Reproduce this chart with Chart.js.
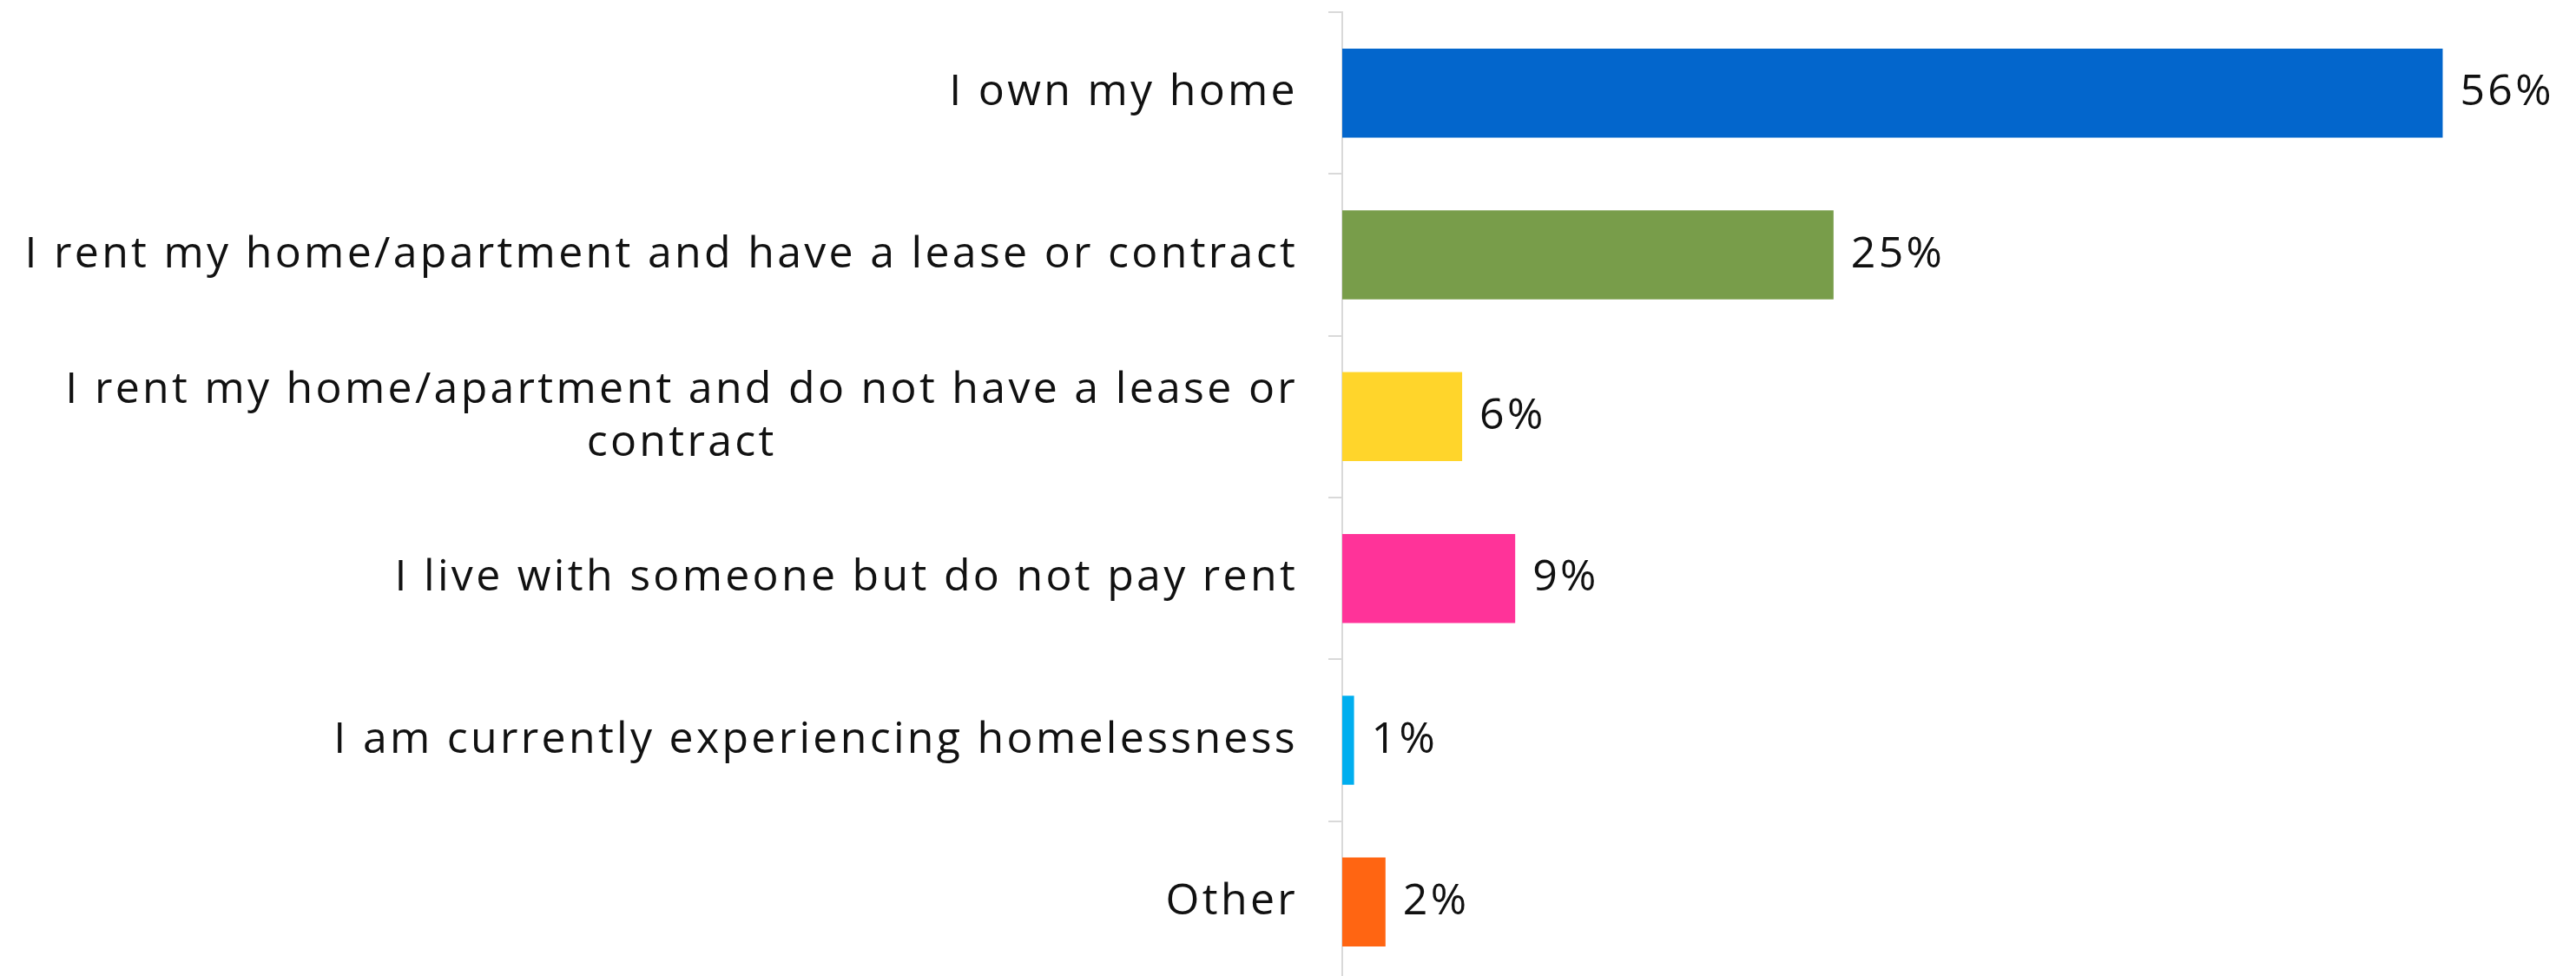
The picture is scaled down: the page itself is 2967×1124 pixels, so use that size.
<!DOCTYPE html>
<html>
<head>
<meta charset="utf-8">
<script src="https://cdn.jsdelivr.net/npm/chart.js@4.4.0/dist/chart.umd.min.js"></script>
<style>
  html, body { margin: 0; padding: 0; background: #fff; overflow: hidden; }
  #wrap { width: 2967px; height: 1132px; position: relative; }
</style>
</head>
<body>
<div id="wrap"><canvas id="bars"></canvas></div>
<script>
// answers, top to bottom
var categories = [
  ['I own my home'],
  ['I rent my home/apartment and have a lease or contract'],
  ['I rent my home/apartment and do not have a lease or', 'contract'],
  ['I live with someone but do not pay rent'],
  ['I am currently experiencing homelessness'],
  ['Other']
];
// bar lengths, labels show them rounded
var shares = [56.0, 25.0, 6.1, 8.8, 0.6, 2.2];
var barColors = ['#0366CC', '#789D4A', '#FFD52B', '#FF3399', '#00AEEF', '#FF6512'];

var labelFont = '50px "Open Sans"';
var spacing = '3.3px';

// category names drawn by hand so the wrapped one is centred on itself
var catLabels = {
  id: 'catLabels',
  afterDraw: function (chart) {
    var ctx = chart.ctx;
    var y = chart.scales.y;
    var right = 1495;
    ctx.save();
    ctx.font = labelFont;
    ctx.letterSpacing = spacing;
    ctx.fillStyle = '#111';
    ctx.textAlign = 'center';
    ctx.textBaseline = 'middle';
    categories.forEach(function (lines, i) {
      var w = 0;
      lines.forEach(function (l) { w = Math.max(w, ctx.measureText(l).width); });
      var cy = y.getPixelForValue(i);
      var lh = 61;
      var top = cy - (lines.length - 1) * lh / 2;
      lines.forEach(function (l, j) {
        ctx.fillText(l, right - w / 2, top + j * lh);
      });
    });
    ctx.restore();
  }
};

var valueLabels = {
  id: 'valueLabels',
  afterDatasetsDraw: function (chart) {
    var ctx = chart.ctx;
    var meta = chart.getDatasetMeta(0);
    ctx.save();
    ctx.font = labelFont;
    ctx.letterSpacing = spacing;
    ctx.fillStyle = '#111';
    ctx.textAlign = 'left';
    ctx.textBaseline = 'middle';
    meta.data.forEach(function (bar, i) {
      ctx.fillText(Math.round(shares[i]) + '%', bar.x + 20, bar.y);
    });
    ctx.restore();
  }
};

new Chart(document.getElementById('bars'), {
  type: 'bar',
  data: {
    labels: categories,
    datasets: [{
      data: shares,
      backgroundColor: barColors,
      borderWidth: 0,
      barPercentage: 0.55,
      categoryPercentage: 1
    }]
  },
  options: {
    indexAxis: 'y',
    responsive: true,
    maintainAspectRatio: false,
    animation: false,
    layout: { padding: { top: 14, right: 63, bottom: 0, left: 0 } },
    plugins: { legend: { display: false }, tooltip: { enabled: false } },
    scales: {
      x: {
        min: 0,
        max: 60,
        display: false
      },
      y: {
        offset: true,
        grid: {
          offset: true,
          drawOnChartArea: false,
          drawTicks: true,
          tickLength: 16,
          color: '#d9d9d9',
          lineWidth: 2
        },
        border: { display: true, color: '#d9d9d9', width: 2 },
        ticks: { display: false },
        afterFit: function (s) { s.width = 1546; }
      }
    }
  },
  plugins: [catLabels, valueLabels]
});
</script>
</body>
</html>
